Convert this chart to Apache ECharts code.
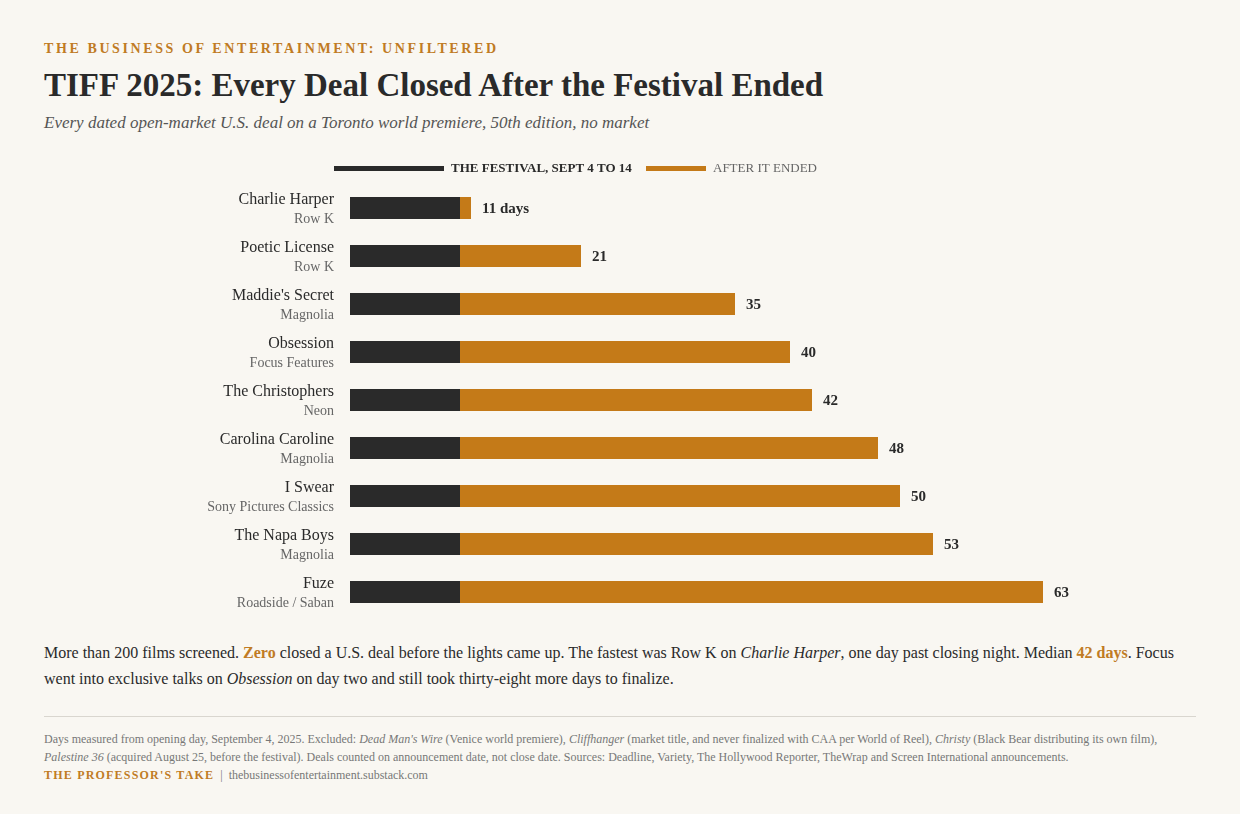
<!DOCTYPE html>
<html>
<head>
<meta charset="utf-8">
<script src="https://cdn.jsdelivr.net/npm/echarts@6/dist/echarts.min.js"></script>
<style>
  html, body { margin: 0; padding: 0; background: #f9f7f2; }
  body { width: 1240px; height: 814px; position: relative; font-family: "Liberation Serif", "DejaVu Serif", serif; color: #2a2a2a; overflow: hidden; }
  .kicker { position: absolute; left: 44px; top: 41px; font-size: 14px; font-weight: bold; letter-spacing: 2.6px; color: #c07b24; }
  h1 { position: absolute; left: 44px; top: 67px; margin: 0; font-size: 33px; font-weight: bold; color: #2a2a2a; white-space: nowrap; }
  .sub { position: absolute; left: 44px; top: 113px; font-size: 17px; font-style: italic; color: #555; }
  #main { position: absolute; left: 0; top: 150px; width: 1240px; height: 480px; }
  .body { position: absolute; left: 44px; top: 640px; width: 1152px; font-size: 16px; line-height: 26px; color: #2a2a2a; }
  .body b { color: #c07b24; }
  .rule { position: absolute; left: 44px; top: 716px; width: 1152px; border-top: 1px solid #d9d6cf; }
  .foot { position: absolute; left: 44px; top: 730px; width: 1160px; font-size: 12px; line-height: 18px; color: #777; }
  .foot .brand { color: #c07b24; font-weight: bold; letter-spacing: 1.2px; }
</style>
</head>
<body>
<div class="kicker">THE BUSINESS OF ENTERTAINMENT: UNFILTERED</div>
<h1>TIFF 2025: Every Deal Closed After the Festival Ended</h1>
<div class="sub">Every dated open-market U.S. deal on a Toronto world premiere, 50th edition, no market</div>
<div id="main"></div>
<div class="body">More than 200 films screened. <b>Zero</b> closed a U.S. deal before the lights came up. The fastest was Row K on <i>Charlie Harper</i>, one day past closing night. Median <b>42 days</b>. Focus went into exclusive talks on <i>Obsession</i> on day two and still took thirty-eight more days to finalize.</div>
<div class="rule"></div>
<div class="foot">Days measured from opening day, September 4, 2025. Excluded: <i>Dead Man's Wire</i> (Venice world premiere), <i>Cliffhanger</i> (market title, and never finalized with CAA per World of Reel), <i>Christy</i> (Black Bear distributing its own film), <i>Palestine 36</i> (acquired August 25, before the festival). Deals counted on announcement date, not close date. Sources: Deadline, Variety, The Hollywood Reporter, TheWrap and Screen International announcements.<br><span class="brand">THE PROFESSOR'S TAKE</span> &nbsp;|&nbsp; thebusinessofentertainment.substack.com</div>
<script>
  let films = ['Charlie Harper', 'Poetic License', "Maddie's Secret", 'Obsession', 'The Christophers',
    'Carolina Caroline', 'I Swear', 'The Napa Boys', 'Fuze'];
  let distributors = ['Row K', 'Row K', 'Magnolia', 'Focus Features', 'Neon',
    'Magnolia', 'Sony Pictures Classics', 'Magnolia', 'Roadside / Saban'];
  let totalDays = [11, 21, 35, 40, 42, 48, 50, 53, 63];
  let festivalDays = 10;

  let festSeries = totalDays.map(() => festivalDays);
  let afterSeries = totalDays.map((t) => t - festivalDays);

  let chart = echarts.init(document.getElementById('main'));
  let serif = '"Liberation Serif", "DejaVu Serif", serif';

  let option = {
    animation: false,
    textStyle: { fontFamily: serif },
    legend: [
      {
        data: ['THE FESTIVAL, SEPT 4 TO 14'],
        left: 329, top: 7,
        itemWidth: 110, itemHeight: 5, itemGap: 0,
        icon: 'rect',
        textStyle: { fontFamily: serif, fontSize: 13, fontWeight: 'bold', color: '#2a2a2a', padding: [0, 0, 0, 2] }
      },
      {
        data: ['AFTER IT ENDED'],
        left: 641, top: 7,
        itemWidth: 60, itemHeight: 5,
        icon: 'rect',
        textStyle: { fontFamily: serif, fontSize: 13, color: '#666', padding: [0, 0, 0, 2] }
      }
    ],
    grid: { left: 350, top: 34, width: 880, height: 432 },
    xAxis: {
      type: 'value', min: 0, max: 80,
      show: false
    },
    yAxis: {
      type: 'category',
      data: films,
      inverse: true,
      axisLine: { show: false },
      axisTick: { show: false },
      axisLabel: {
        margin: 16,
        align: 'right',
        padding: [2, 0, 0, 0],
        formatter: (v, i) => '{n|' + v + '}\n{d|' + distributors[i] + '}',
        rich: {
          n: { fontFamily: serif, fontSize: 16, color: '#2a2a2a', lineHeight: 20, align: 'right' },
          d: { fontFamily: serif, fontSize: 14, color: '#666', lineHeight: 18, align: 'right' }
        }
      }
    },
    series: [
      {
        name: 'THE FESTIVAL, SEPT 4 TO 14',
        type: 'bar', stack: 'd',
        data: festSeries,
        barWidth: 22,
        itemStyle: { color: '#2a2a2a' }
      },
      {
        name: 'AFTER IT ENDED',
        type: 'bar', stack: 'd',
        data: afterSeries,
        barWidth: 22,
        itemStyle: { color: '#c47a18' },
        label: {
          show: true,
          position: 'right',
          distance: 11,
          offset: [0, 1],
          fontFamily: serif,
          fontSize: 15,
          fontWeight: 'bold',
          color: '#2a2a2a',
          formatter: (p) => p.dataIndex === 0 ? totalDays[0] + ' days' : String(totalDays[p.dataIndex])
        }
      }
    ]
  };
  chart.setOption(option);
</script>
</body>
</html>
